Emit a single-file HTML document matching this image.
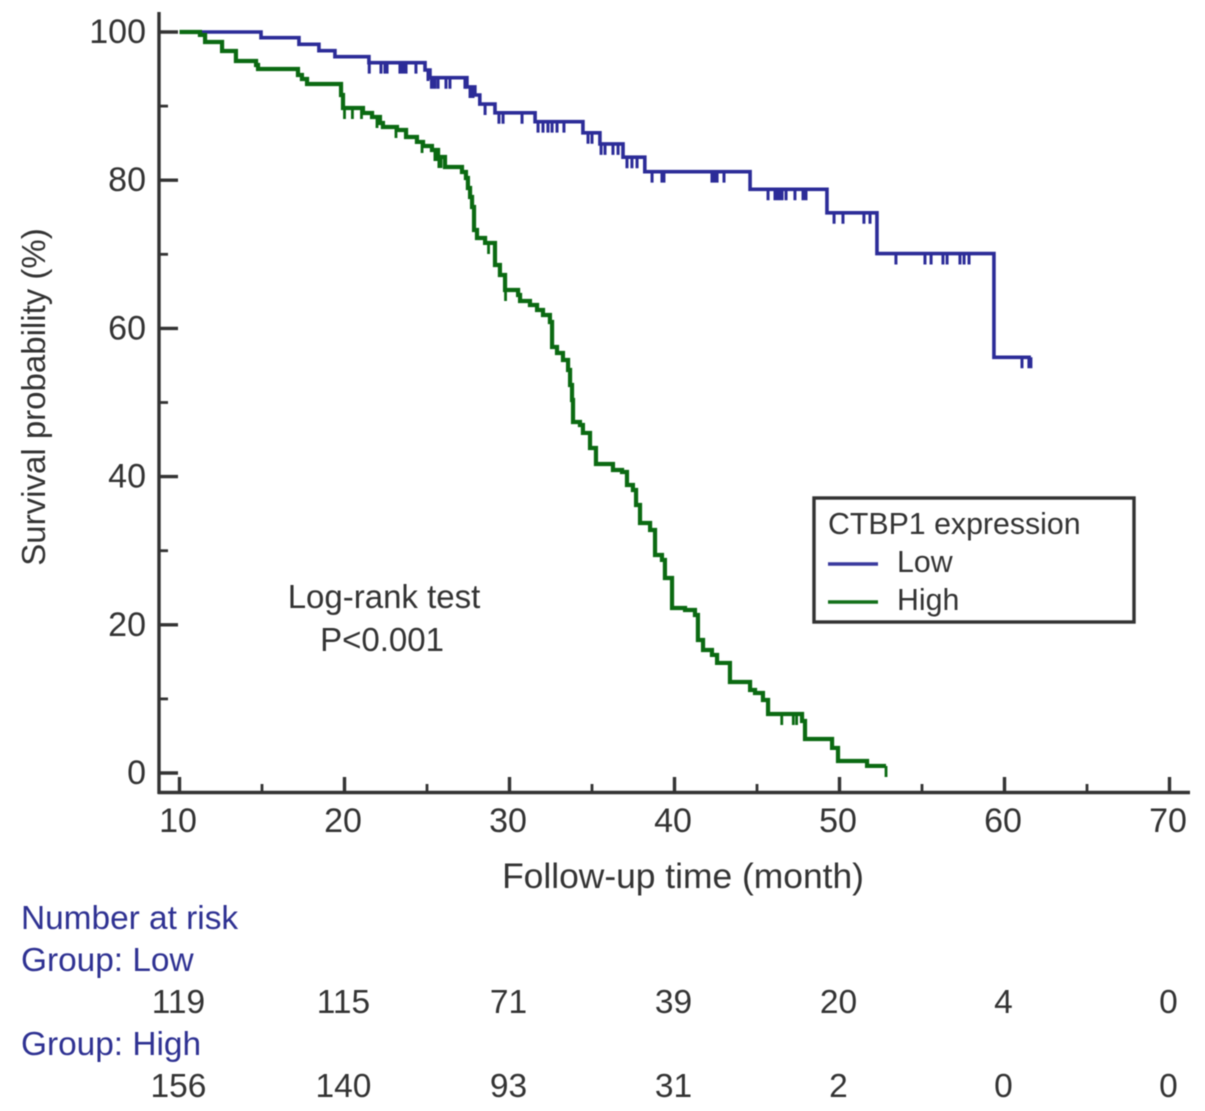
<!DOCTYPE html>
<html lang="en">
<head>
<meta charset="utf-8">
<title>Survival by CTBP1 expression</title>
<style>
  html, body { margin: 0; padding: 0; background: #fff; }
  svg { display: block; font-family: "Liberation Sans", Arial, sans-serif; fill: #333; filter: blur(0.45px); }
</style>
</head>
<body>
<svg id="chart" xmlns="http://www.w3.org/2000/svg" width="1205" height="1111" viewBox="0 0 1205 1111">
  <rect width="1205" height="1111" fill="#fff"/>
  <g id="axes"></g>
  <g id="series"></g>
  <text transform="translate(45,397) rotate(-90)" text-anchor="middle" font-size="33">Survival probability (%)</text>
  <text x="683" y="888" text-anchor="middle" font-size="35.4">Follow-up time (month)</text>
  <text x="384" y="608" text-anchor="middle" font-size="33">Log-rank test</text>
  <text x="382" y="651" text-anchor="middle" font-size="33">P&lt;0.001</text>
  <g>
    <rect x="814" y="498" width="320" height="124" fill="#fff" stroke="#333" stroke-width="3.4"/>
    <text x="828" y="534" font-size="30.3">CTBP1 expression</text>
    <line x1="828" x2="878" y1="564" y2="564" stroke="#3a3a9e" stroke-width="3.4"/>
    <text x="897" y="572" font-size="30.3">Low</text>
    <line x1="828" x2="878" y1="602" y2="602" stroke="#12701a" stroke-width="3.4"/>
    <text x="897" y="610" font-size="30.3">High</text>
  </g>
  <g>
    <text x="21" y="929" font-size="33.4" fill="#2e3192">Number at risk</text>
    <text x="21" y="971" font-size="33.4" fill="#2e3192">Group: Low</text>
    <text x="21" y="1055" font-size="33.4" fill="#2e3192">Group: High</text>
  </g>
  <g id="risk-values"></g>
</svg>
<script>
const xTickLabels = [10, 20, 30, 40, 50, 60, 70];
const xMinorTicks = [15, 25, 35, 45, 55, 65];
const yTickLabels = [0, 20, 40, 60, 80, 100];
const yMinorTicks = [10, 30, 50, 70, 90];

const lowTimes = [14.94, 17.24, 18.45, 19.42, 21.48, 24.88, 25.18, 27.42, 27.9, 28.2, 29.12, 31.55, 34.45, 35.48, 36.88, 38.2, 44.58, 49.24, 52.27, 59.36, 61.6];
const lowSurvival = [99.23, 98.34, 97.48, 96.67, 95.86, 94.87, 93.83, 92.58, 91.5, 90.28, 89.1, 87.9, 86.4, 84.9, 83.1, 81.15, 78.77, 75.6, 70.1, 56.1, 56.1];
const lowCensored = [21.5, 22.21, 22.45, 22.58, 23.36, 23.48, 23.61, 23.73, 24.33, 25.06, 25.27, 25.36, 25.48, 25.67, 26.15, 26.39, 27.3, 27.61, 27.79, 28.52, 29.36, 29.61, 30.76, 31.73, 32.03, 32.33, 32.58, 32.88, 33.3, 34.76, 35.0, 35.55, 35.79, 36.27, 36.58, 37.12, 37.42, 37.73, 38.64, 39.24, 39.36, 42.27, 42.45, 42.58, 43.0, 45.67, 46.09, 46.27, 46.4, 46.52, 46.76, 47.3, 47.79, 47.97, 49.67, 50.21, 51.48, 51.85, 53.42, 55.18, 55.55, 56.27, 56.52, 57.3, 57.55, 57.85, 61.06, 61.48, 61.6];

const highTimes = [11.24, 11.55, 12.58, 13.42, 14.64, 14.76, 17.18, 17.42, 17.73, 19.79, 19.91, 21.12, 21.67, 22.15, 22.33, 23.18, 23.73, 24.39, 24.76, 25.3, 25.67, 26.09, 27.12, 27.36, 27.48, 27.61, 27.73, 27.85, 28.03, 28.52, 29.12, 29.42, 29.73, 30.52, 30.64, 31.24, 31.67, 32.03, 32.45, 32.58, 32.88, 33.24, 33.55, 33.67, 33.79, 33.85, 34.27, 34.45, 34.88, 35.24, 36.27, 36.82, 37.12, 37.48, 37.67, 37.91, 38.52, 38.82, 39.24, 39.42, 39.85, 40.64, 41.24, 41.42, 41.73, 42.27, 42.58, 43.36, 44.58, 44.88, 45.36, 45.67, 47.73, 47.91, 49.55, 49.91, 51.67, 52.82];
const highSurvival = [99.6, 98.65, 97.44, 96.09, 95.55, 95.01, 94.2, 93.66, 92.98, 91.5, 89.74, 89.07, 88.53, 87.72, 87.18, 86.77, 85.83, 85.16, 84.62, 84.08, 83.13, 81.78, 81.11, 80.3, 78.95, 77.73, 76.38, 73.28, 72.2, 71.53, 68.56, 67.21, 65.18, 64.51, 63.7, 63.16, 62.48, 61.81, 60.86, 57.49, 56.68, 55.74, 54.39, 52.36, 50.34, 47.37, 46.96, 45.89, 43.86, 41.7, 40.89, 40.62, 38.87, 38.19, 36.17, 33.74, 32.79, 29.42, 28.75, 26.32, 22.27, 22.0, 21.32, 17.95, 16.6, 15.93, 14.85, 12.28, 11.2, 10.8, 9.85, 7.96, 7.02, 4.59, 3.38, 1.62, 0.95, 0.95];
const highCensored = [20.0, 20.48, 21.03, 21.97, 23.12, 24.7, 25.48, 25.6, 25.72, 25.85, 28.73, 29.76, 46.5, 47.2, 47.4, 52.82];

const riskLow = [119, 115, 71, 39, 20, 4, 0];
const riskHigh = [156, 140, 93, 31, 2, 0, 0];

const SVG_NS = 'http://www.w3.org/2000/svg';
const xPx = t => 179.5 + (t - 10) * 16.5;
const yPx = s => 773 - s * 7.41;
const axisColor = '#333';
const axes = document.getElementById('axes');
const seriesGroup = document.getElementById('series');
const riskGroup = document.getElementById('risk-values');

function make(tag, parent, attrs, text) {
  const el = document.createElementNS(SVG_NS, tag);
  for (const k in attrs) el.setAttribute(k, attrs[k]);
  if (text !== undefined) el.textContent = text;
  parent.appendChild(el);
  return el;
}

const yAxisLine = make('line', axes, {x1: 159, x2: 159, y1: 12, y2: 794, stroke: axisColor, 'stroke-width': 3.4});


const xAxisLine = make('line', axes, {x1: 158, x2: 1190, y1: 792.5, y2: 792.5, stroke: axisColor, 'stroke-width': 3.4});



xTickLabels.forEach(v => {
  const tick = make('line', axes, {x1: xPx(v), x2: xPx(v), y1: 792, y2: 777, stroke: axisColor, 'stroke-width': 3.4});
  
  
  const label = make('text', axes, {x: xPx(v) - 1.5, y: 832, 'text-anchor': 'middle', 'font-size': 34}, v);
  
  
});
xMinorTicks.forEach(v => {
  const tick = make('line', axes, {x1: xPx(v), x2: xPx(v), y1: 792, y2: 784, stroke: axisColor, 'stroke-width': 2.8});
  
  
});
yTickLabels.forEach(v => {
  const tick = make('line', axes, {x1: 159, x2: 178, y1: yPx(v), y2: yPx(v), stroke: axisColor, 'stroke-width': 3.4});
  
  
  const label = make('text', axes, {x: 146, y: yPx(v) + 11, 'text-anchor': 'end', 'font-size': 34}, v);
  
  
});
yMinorTicks.forEach(v => {
  const tick = make('line', axes, {x1: 159, x2: 168, y1: yPx(v), y2: yPx(v), stroke: axisColor, 'stroke-width': 2.8});
  
  
});

function levelAt(t, times, values) {
  let s = 100;
  for (let i = 0; i < times.length; i++) {
    if (times[i] <= t) s = values[i];
    else break;
  }
  return s;
}

function stepPath(times, values) {
  let d = 'M' + xPx(10) + ' ' + yPx(100);
  times.forEach((t, i) => {
    d += 'H' + xPx(t).toFixed(2) + 'V' + yPx(values[i]).toFixed(2);
  });
  return d;
}

function censorPath(censored, times, values) {
  let d = '';
  censored.forEach(t => {
    const y = yPx(levelAt(t, times, values));
    d += 'M' + xPx(t).toFixed(2) + ' ' + y.toFixed(2) + 'v11';
  });
  return d;
}

const lowCurve = make('path', seriesGroup, {d: stepPath(lowTimes, lowSurvival), fill: 'none', stroke: '#2c2c98', 'stroke-width': 3.6});


const lowTicks = make('path', seriesGroup, {d: censorPath(lowCensored, lowTimes, lowSurvival), fill: 'none', stroke: '#2c2c98', 'stroke-width': 3});


const highCurve = make('path', seriesGroup, {d: stepPath(highTimes, highSurvival), fill: 'none', stroke: '#0b6a12', 'stroke-width': 4.2});


const highTicks = make('path', seriesGroup, {d: censorPath(highCensored, highTimes, highSurvival), fill: 'none', stroke: '#0b6a12', 'stroke-width': 2.8});



xTickLabels.forEach((v, i) => {
  const low = make('text', riskGroup, {x: xPx(v) - 1, y: 1013, 'text-anchor': 'middle', 'font-size': 33.5}, riskLow[i]);
  
  
  const high = make('text', riskGroup, {x: xPx(v) - 1, y: 1097, 'text-anchor': 'middle', 'font-size': 33.5}, riskHigh[i]);
  
  
});
</script>
</body>
</html>
